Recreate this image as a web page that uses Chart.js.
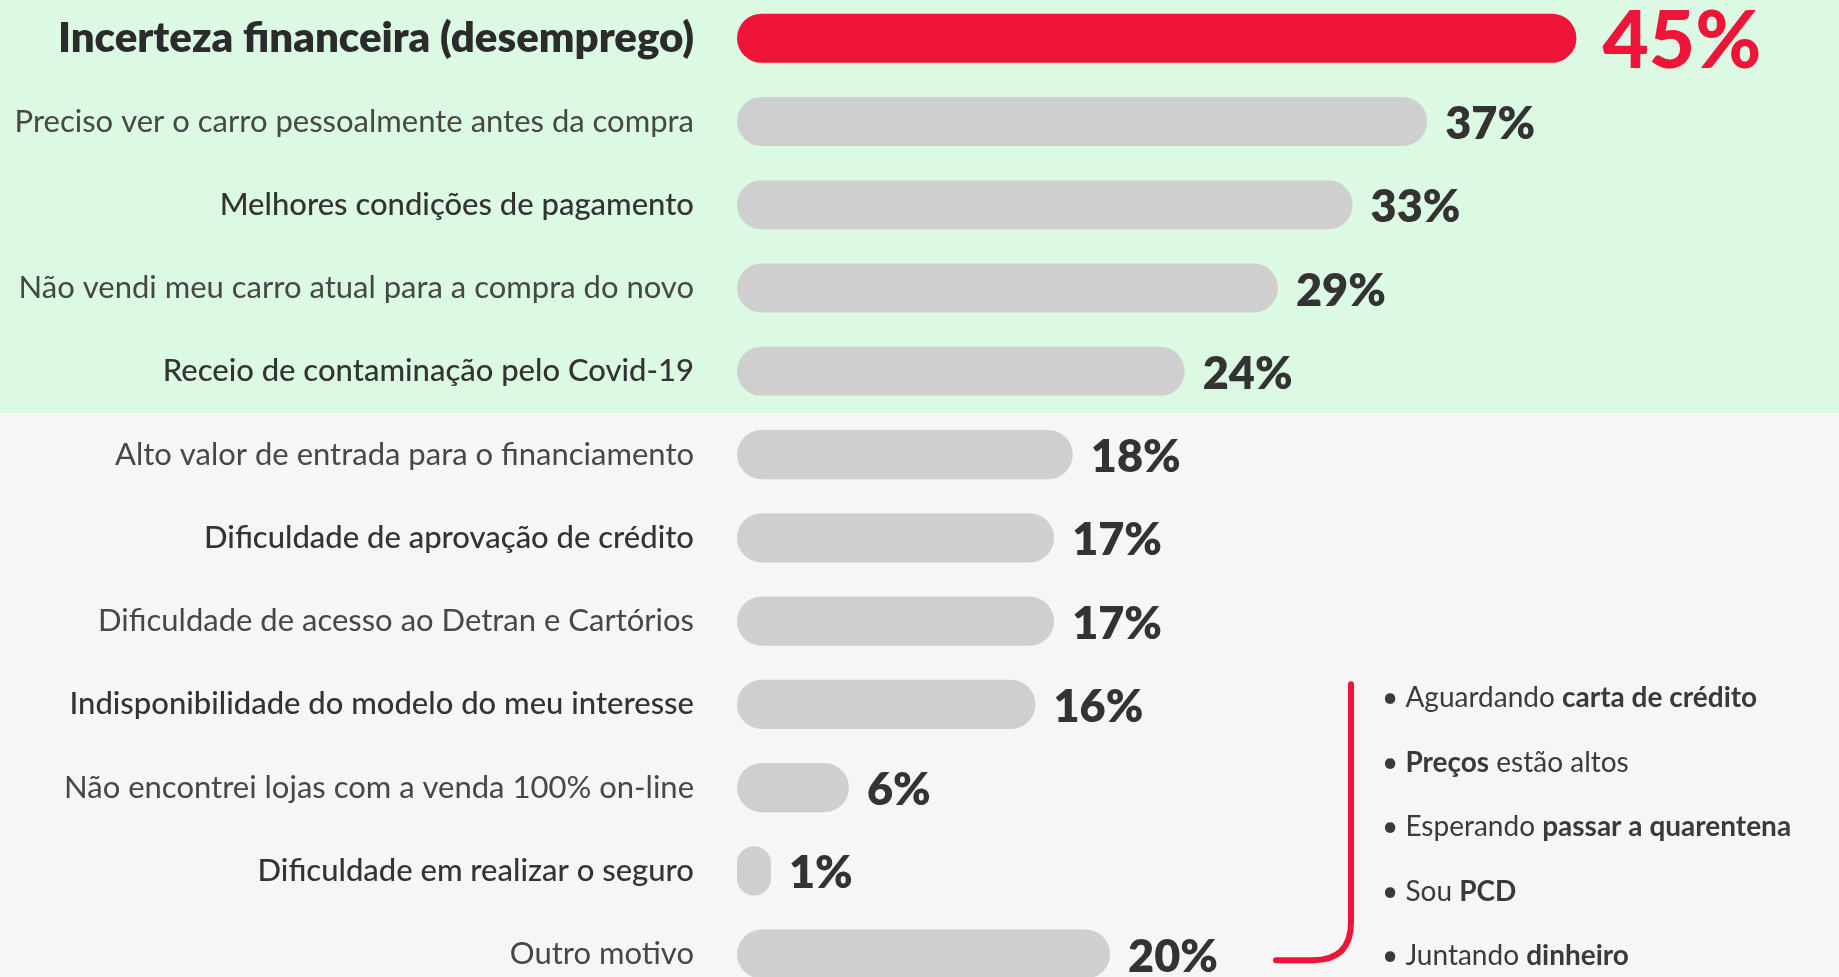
<!DOCTYPE html>
<html>
<head>
<meta charset="utf-8">
<script src="https://cdn.jsdelivr.net/npm/chart.js@4.4.1/dist/chart.umd.min.js"></script>
<style>
    html, body { margin: 0; padding: 0; width: 1839px; height: 977px; overflow: hidden; background: #f6f6f6; }
    #wrap { position: absolute; left: 0; top: -22px; width: 1839px; height: 1043px; }
</style>
</head>
<body>
<div id="wrap"><canvas id="chart"></canvas></div>
<script>
// motivos para adiar a compra (%)
const categories = [
    'Incerteza financeira (desemprego)',
    'Preciso ver o carro pessoalmente antes da compra',
    'Melhores condições de pagamento',
    'Não vendi meu carro atual para a compra do novo',
    'Receio de contaminação pelo Covid-19',
    'Alto valor de entrada para o financiamento',
    'Dificuldade de aprovação de crédito',
    'Dificuldade de acesso ao Detran e Cartórios',
    'Indisponibilidade do modelo do meu interesse',
    'Não encontrei lojas com a venda 100% on-line',
    'Dificuldade em realizar o seguro',
    'Outro motivo',
];
const values = [45, 37, 33, 29, 24, 18, 17, 17, 16, 6, 1, 20];
// labels set in a heavier weight
const strongLabels = [0, 2, 4, 6, 8, 10];
const highlightedRows = 5; // first rows on the green band

// "Outro motivo" detail: [text, bold] pieces per line
const otherReasons = [
    [['Aguardando ', false], ['carta de crédito', true]],
    [['Preços', true], [' estão altos', false]],
    [['Esperando ', false], ['passar a quarentena', true]],
    [['Sou ', false], ['PCD', true]],
    [['Juntando ', false], ['dinheiro', true]],
];

const RED = '#ef1539';
const GRAY = '#cfcfcf';
const FONT = 'Lato, "Open Sans", sans-serif';

const backgroundPlugin = {
    id: 'bands',
    beforeDraw(chart) {
        const { ctx, scales: { y } } = chart;
        const split = (y.getPixelForValue(highlightedRows - 1) + y.getPixelForValue(highlightedRows)) / 2;
        ctx.save();
        ctx.fillStyle = '#f6f6f6';
        ctx.fillRect(0, 0, chart.width, chart.height);
        ctx.fillStyle = '#dcf9e3';
        ctx.fillRect(0, 0, chart.width, split);
        ctx.restore();
    },
};

const valueLabels = {
    id: 'valueLabels',
    afterDatasetsDraw(chart) {
        const { ctx } = chart;
        const meta = chart.getDatasetMeta(0);
        ctx.save();
        ctx.textBaseline = 'middle';
        ctx.textAlign = 'left';
        meta.data.forEach((bar, i) => {
            if (i === 0) {
                ctx.font = `900 80px ${FONT}`;
                ctx.fillStyle = RED;
                ctx.fillText(values[i] + '%', bar.x + 26, bar.y + 4);
            } else {
                ctx.font = `800 45px ${FONT}`;
                ctx.fillStyle = '#333333';
                ctx.fillText(values[i] + '%', bar.x + 18, bar.y + 3);
            }
        });
        ctx.restore();
    },
};

const bracketNote = {
    id: 'bracketNote',
    afterDraw(chart) {
        const { ctx, scales: { y } } = chart;
        const last = categories.length - 1;
        const top = y.getPixelForValue(last - 3) - 20;
        const bottom = y.getPixelForValue(last) + 6;
        const bx = 1351, ex = 1276, r = 38;
        ctx.save();
        ctx.strokeStyle = RED;
        ctx.lineWidth = 6;
        ctx.lineCap = 'round';
        ctx.beginPath();
        ctx.moveTo(bx, top);
        ctx.lineTo(bx, bottom - r);
        ctx.quadraticCurveTo(bx, bottom, bx - r, bottom);
        ctx.lineTo(ex, bottom);
        ctx.stroke();

        ctx.textBaseline = 'middle';
        ctx.fillStyle = '#3a3a3a';
        const startY = y.getPixelForValue(last - 3) - 6;
        otherReasons.forEach((parts, i) => {
            let x = 1382;
            const ly = startY + i * 64.5;
            ctx.font = `400 28px ${FONT}`;
            ctx.fillText('• ', x, ly);
            x += ctx.measureText('• ').width;
            parts.forEach(([txt, bold]) => {
                ctx.font = `${bold ? 700 : 400} 28px ${FONT}`;
                ctx.fillText(txt, x, ly);
                x += ctx.measureText(txt).width;
            });
        });
        ctx.restore();
    },
};

new Chart(document.getElementById('chart'), {
    type: 'bar',
    data: {
        labels: categories,
        datasets: [{
            data: values,
            backgroundColor: values.map((v, i) => i === 0 ? RED : GRAY),
            borderRadius: 30,
            borderSkipped: false,
            barPercentage: 0.59,
            categoryPercentage: 1,
            minBarLength: 34,
        }],
    },
    options: {
        indexAxis: 'y',
        responsive: true,
        maintainAspectRatio: false,
        animation: false,
        layout: { padding: { top: 1, right: 76, bottom: 0, left: 0 } },
        plugins: {
            legend: { display: false },
            tooltip: { enabled: false },
        },
        scales: {
            x: {
                display: false,
                min: 0,
                max: 55,
            },
            y: {
                border: { display: false },
                // tick marks hidden, their length used as the gap before the bars
                grid: { display: false, drawTicks: true, tickLength: 43 },
                afterFit: (scale) => { scale.width = 737; },
                ticks: {
                    padding: 0,
                    color: (ctx) => ctx.index === 0 ? '#2b2b2b' : (strongLabels.includes(ctx.index) ? '#333333' : '#474747'),
                    font: (ctx) => {
                        if (ctx.index === 0) {
                            return { family: FONT, size: 42, weight: 800 };
                        }
                        return { family: FONT, size: 31, weight: strongLabels.includes(ctx.index) ? 500 : 400 };
                    },
                },
            },
        },
    },
    plugins: [backgroundPlugin, valueLabels, bracketNote],
});
</script>
</body>
</html>
